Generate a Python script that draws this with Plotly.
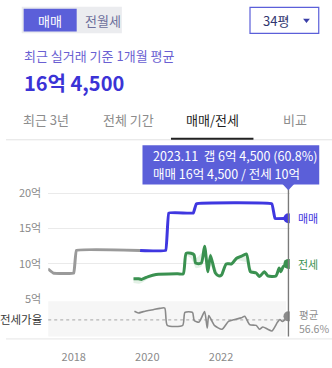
import plotly.graph_objects as go

W, H = 332, 368

# 매매 시세 (억원) - 전세 자료가 없는 구간은 회색으로 표시
SALE_PAST_DATES = ["2017-04-20", "2017-06-13", "2018-01-01", "2018-01-28", "2019-10-21"]
SALE_PAST_VALUES = [9.3, 8.7, 8.7, 11.9, 11.9]
SALE_DATES = ["2019-10-21", "2020-07-01", "2020-08-01", "2021-04-01", "2021-05-01",
              "2023-05-20", "2023-06-20", "2023-11-01"]
SALE_VALUES = [11.9, 11.9, 17.2, 17.2, 18.5, 18.5, 16.45, 16.45]

# 전세 시세 (억원) 와 거래 범위
JEONSE_DATES = ["2019-08-17", "2019-10-05", "2019-11-03", "2020-01-10", "2020-03-28",
                "2020-10-29", "2020-12-22", "2021-01-20", "2021-03-07", "2021-04-08",
                "2021-04-25", "2021-06-19", "2021-07-22", "2021-08-24", "2021-09-18",
                "2021-11-06", "2021-12-09", "2022-01-05", "2022-02-21", "2022-04-16",
                "2022-06-04", "2022-07-23", "2022-09-10", "2022-10-19", "2022-12-16",
                "2023-01-18", "2023-03-07", "2023-04-10", "2023-06-30", "2023-08-01",
                "2023-08-18", "2023-09-09", "2023-11-01"]
JEONSE_VALUES = [7.9, 7.9, 7.8, 8.2, 8.5, 8.6, 8.6, 11.5, 11.5, 11.3,
                 10.1, 10.1, 12.5, 8.9, 11.2, 8.7, 8.3, 8.4, 10.0, 10.0,
                 10.8, 11.1, 11.4, 8.9, 8.7, 8.2, 8.9, 8.3, 8.3, 9.4,
                 8.9, 9.6, 10.0]
JEONSE_LOW = [7.3, 7.2, 7.3, 7.9, 8.4, 8.5, 8.5, 11.2, 10.8, 10.0,
              9.4, 9.6, 11.0, 8.6, 9.8, 8.4, 8.1, 8.2, 9.8, 9.8,
              10.5, 10.4, 10.2, 8.6, 8.5, 8.0, 8.7, 8.1, 8.1, 9.2,
              8.7, 9.4, 9.9]
JEONSE_HIGH = [8.0, 8.1, 8.0, 8.3, 8.6, 8.7, 8.7, 11.7, 11.8, 11.6,
               10.8, 11.5, 12.6, 10.4, 11.6, 9.6, 8.6, 8.6, 10.2, 10.2,
               11.0, 11.3, 11.6, 9.4, 8.9, 8.4, 9.1, 8.5, 8.5, 9.6,
               9.1, 9.8, 10.1]

# 전세가율 (%)
RATIO_DATES = ["2019-08-26", "2019-10-05", "2019-11-22", "2020-02-28", "2020-05-05",
               "2020-06-22", "2020-07-17", "2020-12-17", "2021-01-08", "2021-03-24",
               "2021-04-10", "2021-05-28", "2021-07-22", "2021-08-17", "2021-09-02",
               "2021-10-27", "2022-01-10", "2022-03-16", "2022-05-18", "2022-07-23",
               "2022-08-24", "2022-10-12", "2022-12-16", "2023-01-18", "2023-02-20",
               "2023-04-10", "2023-05-21", "2023-07-16", "2023-08-08", "2023-09-02",
               "2023-11-01"]
RATIO_VALUES = [67.0, 65.0, 66.6, 69.0, 70.6, 71.0, 49.8, 49.8, 65.8, 65.8,
                55.8, 53.8, 66.6, 46.6, 61.8, 49.8, 45.0, 54.6, 57.0, 59.0,
                61.0, 50.6, 49.8, 45.0, 47.8, 45.0, 43.0, 53.8, 57.0, 54.6,
                60.8]
RATIO_AVG = 56.6

X_TICKS = ["2018-01-01", "2020-01-01", "2022-01-01"]
X_TICK_TEXT = ["2018", "2020", "2022"]
Y_TICKS = [5, 10, 15, 20]
Y_TICK_TEXT = ["5억", "10억", "15억", "20억"]

FONT = "'Noto Sans CJK KR', 'Noto Sans', sans-serif"
BLUE = "#3f37e0"
ACCENT = "#5b5fd9"
GREEN = "#3a9150"
GRAY = "#9a9a9a"


def px(x):
    return x / W


def py(y):
    return 1 - y / H


def eok(v):
    whole = int(v)
    man = int(round((v - whole) * 10000))
    return f"{whole}억 {man:,}" if man else f"{whole}억"


last_date = SALE_DATES[-1]
sale_now = SALE_VALUES[-1]
jeonse_now = JEONSE_VALUES[-1]
gap_pct = jeonse_now / sale_now * 100

fig = go.Figure()

# 전세 거래 범위 (연한 띠)
fig.add_trace(go.Scatter(x=JEONSE_DATES, y=JEONSE_LOW, mode="lines",
                         line=dict(width=0, shape="spline", smoothing=0.6),
                         hoverinfo="skip", showlegend=False))
fig.add_trace(go.Scatter(x=JEONSE_DATES, y=JEONSE_HIGH, mode="lines", fill="tonexty",
                         fillcolor="rgba(80,170,100,0.16)",
                         line=dict(width=0, shape="spline", smoothing=0.6),
                         hoverinfo="skip", showlegend=False))

fig.add_trace(go.Scatter(x=SALE_PAST_DATES, y=SALE_PAST_VALUES, mode="lines",
                         line=dict(color=GRAY, width=3, shape="spline", smoothing=0.2),
                         showlegend=False))
fig.add_trace(go.Scatter(x=SALE_DATES, y=SALE_VALUES, mode="lines",
                         line=dict(color=BLUE, width=3, shape="spline", smoothing=0.2),
                         showlegend=False))
fig.add_trace(go.Scatter(x=JEONSE_DATES, y=JEONSE_VALUES, mode="lines",
                         line=dict(color=GREEN, width=3, shape="spline", smoothing=0.6),
                         showlegend=False))
fig.add_trace(go.Scatter(x=RATIO_DATES, y=RATIO_VALUES, mode="lines", yaxis="y2",
                         line=dict(color="#8a8a8a", width=1.6, shape="spline", smoothing=0.6),
                         showlegend=False))

# 현재 시점 표식
fig.add_trace(go.Scatter(x=[last_date], y=[sale_now], mode="markers",
                         marker=dict(color=BLUE, size=10), showlegend=False))
fig.add_trace(go.Scatter(x=[last_date], y=[jeonse_now], mode="markers",
                         marker=dict(color=GREEN, size=10), showlegend=False))
fig.add_trace(go.Scatter(x=[last_date], y=[RATIO_VALUES[-1]], mode="markers", yaxis="y2",
                         marker=dict(color="#8a8a8a", size=10), showlegend=False))

shapes = [
    # 매매 / 전월세 토글
    dict(type="rect", xref="paper", yref="paper", x0=px(16), x1=px(118), y0=py(34), y1=py(7),
         fillcolor="#ebecef", line=dict(width=0), layer="below"),
    dict(type="rect", xref="paper", yref="paper", x0=px(18), x1=px(72), y0=py(32), y1=py(9),
         fillcolor=ACCENT, line=dict(width=0)),
    # 평형 선택 박스
    dict(type="rect", xref="paper", yref="paper", x0=px(248.5), x1=px(318.5), y0=py(34), y1=py(7.5),
         fillcolor="white", line=dict(color=ACCENT, width=1.2)),
    dict(type="path", xref="paper", yref="paper",
         path=f"M {px(302.5)},{py(19)} L {px(309.5)},{py(19)} L {px(306)},{py(23.5)} Z",
         fillcolor="#3a3fa8", line=dict(width=0)),
    # 탭 구분선
    dict(type="line", xref="paper", yref="paper", x0=0, x1=1, y0=py(142.5), y1=py(142.5),
         line=dict(color="#e2e2e2", width=1)),
    dict(type="line", xref="paper", yref="paper", x0=px(168), x1=px(252), y0=py(141.5), y1=py(141.5),
         line=dict(color="#222222", width=2)),
    # 전세가율 영역 배경
    dict(type="rect", xref="x domain", yref="y2 domain", x0=0, x1=0.985, y0=0, y1=1,
         fillcolor="#f6f6f6", line=dict(width=0), layer="below"),
    dict(type="line", xref="x domain", yref="y2", x0=0, x1=0.985, y0=RATIO_AVG, y1=RATIO_AVG,
         line=dict(color="#b5b5b5", width=1.2, dash="dot"), layer="below"),
    # 하단 기준선
    dict(type="line", xref="paper", yref="paper", x0=0, x1=1, y0=py(345.5), y1=py(345.5),
         line=dict(color="#e6e6e6", width=1)),
    # 커서 세로선
    dict(type="line", xref="x", yref="paper", x0=last_date, x1=last_date, y0=py(343), y1=py(190),
         line=dict(color="#7a7a7a", width=1.4)),
    # 툴팁
    dict(type="rect", xref="paper", yref="paper", x0=px(139), x1=px(319), y0=py(188), y1=py(148),
         fillcolor=ACCENT, line=dict(width=0)),
    dict(type="path", xref="paper", yref="paper",
         path=f"M {px(281.5)},{py(187.5)} L {px(293.5)},{py(187.5)} L {px(287.5)},{py(194)} Z",
         fillcolor=ACCENT, line=dict(width=0)),
]


def label(text, x, y, size, color, anchor="left", weight="normal"):
    return dict(text=text, xref="paper", yref="paper", x=px(x), y=py(y), xanchor=anchor,
                yanchor="middle", align=anchor, showarrow=False,
                font=dict(family=FONT, size=size, color=color, weight=weight))


annotations = [
    label("매매", 45, 21, 13, "white", "center"),
    label("전월세", 99, 21, 13, "#6d6f9c", "center"),
    label("34평", 275, 21, 13, "#30356e", "center"),
    label("최근 실거래 기준 1개월 평균", 16, 57, 13, "#6a5fd2"),
    label(eok(sale_now), 16, 84, 20, "#3b33d6", weight="bold"),
    label("최근 3년", 41, 122, 13, "#8c8c8c", "center"),
    label("전체 기간", 125, 122, 13, "#8c8c8c", "center"),
    label("매매/전세", 210, 122, 13, "#1f1f1f", "center"),
    label("비교", 294, 122, 13, "#8c8c8c", "center"),
    label(f"2023.11\u00a0\u00a0갭 {eok(sale_now - jeonse_now)} ({gap_pct:.1f}%)", 148, 159, 12.5, "white"),
    label(f"매매 {eok(sale_now)} / 전세 {eok(jeonse_now)}", 148, 177, 12.5, "white"),
    # 오른쪽 끝 라벨
    dict(text="매매", xref="x", yref="y", x=last_date, y=sale_now, xanchor="left", xshift=8,
         showarrow=False, font=dict(family=FONT, size=11, color=BLUE)),
    dict(text="전세", xref="x", yref="y", x=last_date, y=jeonse_now, xanchor="left", xshift=8,
         showarrow=False, font=dict(family=FONT, size=11, color=GREEN)),
    label(f"평균<br>{RATIO_AVG}%", 296, 327.5, 10.5, "#8f8f8f"),
]

fig.update_layout(
    width=W, height=H,
    margin=dict(l=0, r=0, t=0, b=0),
    paper_bgcolor="white", plot_bgcolor="rgba(0,0,0,0)",
    font=dict(family=FONT, size=11, color="#888888"),
    showlegend=False,
    hovermode=False,
    xaxis=dict(type="date", domain=[px(43), px(289)], range=["2017-04-23", "2023-11-14"],
               anchor="y2", tickvals=X_TICKS, ticktext=X_TICK_TEXT, showgrid=False,
               zeroline=False, showline=False, ticks="", ticklabelstandoff=13,
               tickfont=dict(family=FONT, size=11, color="#8a8a8a")),
    yaxis=dict(domain=[py(305), py(185)], range=[5, 5 + 120 / 7.2],
               tickvals=Y_TICKS, ticktext=Y_TICK_TEXT, showgrid=True, gridcolor="#eaeaea",
               gridwidth=1, zeroline=False, showline=False, ticks="", ticklabelstandoff=6,
               tickfont=dict(family=FONT, size=11, color="#8a8a8a")),
    yaxis2=dict(domain=[py(343), py(307)], range=[36.2, 79.4], anchor="x",
                tickvals=[RATIO_AVG], ticktext=["전세가율"], showgrid=False, zeroline=False,
                showline=False, ticks="", ticklabelstandoff=5,
                tickfont=dict(family=FONT, size=11.5, color="#3a3a3a")),
    shapes=shapes,
    annotations=annotations,
)

fig.write_html("out.html")
